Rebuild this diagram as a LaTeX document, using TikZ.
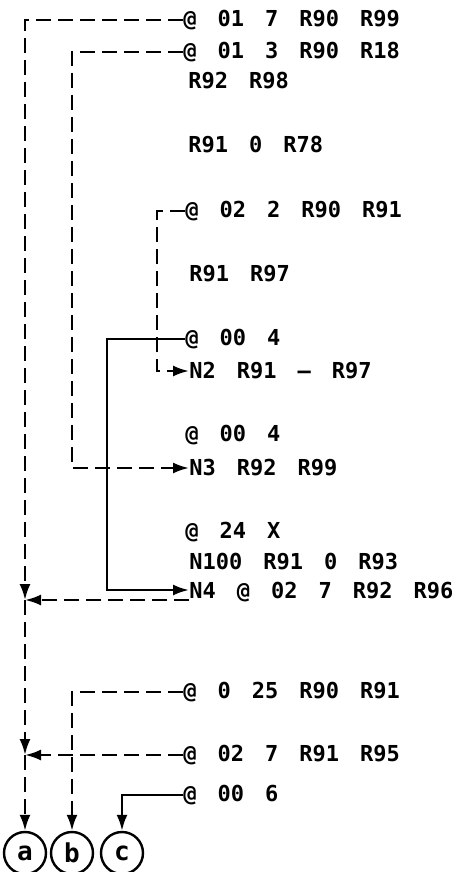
\documentclass[tikz,border=0pt]{standalone}
\usepackage{fontspec}
\newfontfamily\codefont{DejaVu Sans Mono Bold}
\newcommand\codetext{\codefont\fontsize{11}{13}\selectfont\spaceskip=10.5pt\relax}
\usetikzlibrary{arrows.meta}

\begin{document}
\begin{tikzpicture}[x=0.5pt,y=-0.5pt,
	stmt/.style={anchor=west, inner sep=0pt, font=\codetext},
	flow/.style={line width=1.2pt, -{Latex[length=8pt,width=5.5pt]}},
	dashflow/.style={flow, dash pattern=on 7.5pt off 3.5pt},
	endmark/.style={circle, draw, line width=1.2pt, minimum size=21pt, inner sep=0pt, font=\codefont\fontsize{13}{14}\selectfont}]
	\useasboundingbox (0,0) rectangle (462,872);

	% program lines
	\node[stmt] (s1) at (183,20) {@ 01 7 R90 R99};
	\node[stmt] (s2) at (183,52) {@ 01 3 R90 R18};
	\node[stmt] (s3) at (188,81) {R92 R98};
	\node[stmt] (s4) at (188,145) {R91 0 R78};
	\node[stmt] (s5) at (185,211) {@ 02 2 R90 R91};
	\node[stmt] (s6) at (189,274) {R91 R97};
	\node[stmt] (s7) at (185,339) {@ 00 4};
	\node[stmt] (s8) at (189,371) {N2 R91 – R97};
	\node[stmt] (s9) at (185,435) {@ 00 4};
	\node[stmt] (s10) at (189,468) {N3 R92 R99};
	\node[stmt] (s11) at (185,532) {@ 24 X};
	\node[stmt] (s12) at (189,562) {N100 R91 0 R93};
	\node[stmt] (s13) at (189,592) {N4 @ 02 7 R92 R96};
	\node[stmt] (s14) at (183,692) {@ 0 25 R90 R91};
	\node[stmt] (s15) at (183,755) {@ 02 7 R91 R95};
	\node[stmt] (s16) at (183,795) {@ 00 6};

	% exits
	\node[endmark] (a) at (25,853) {a};
	\node[endmark] (b) at (72,853) {b};
	\node[endmark] (c) at (122,853) {c};

	% columns and joins
	\coordinate (colb) at (72,300);
	\coordinate (colc) at (157,300);
	\coordinate (cold) at (107,450);
	\coordinate (ja) at (25,600);
	\coordinate (jb) at (25,755);

	\draw[dashflow] (s1.west) -| (ja);
	\draw[dashflow] (ja) -- (jb);
	\draw[dashflow] (jb) -- (a);
	\draw[dashflow] (s2.west) -| (colb) |- (s10.west);
	\draw[dashflow] (s5.west) -| (colc) |- (s8.west);
	\draw[flow] (s7.west) -| (cold) |- ([yshift=1pt]s13.west);
	\draw[dashflow] ([yshift=-4pt]s13.west) -- (ja);
	\draw[dashflow] (s14.west) -| (b);
	\draw[dashflow] (s15.west) -- (jb);
	\draw[flow] (s16.west) -| (c);
\end{tikzpicture}
\end{document}
